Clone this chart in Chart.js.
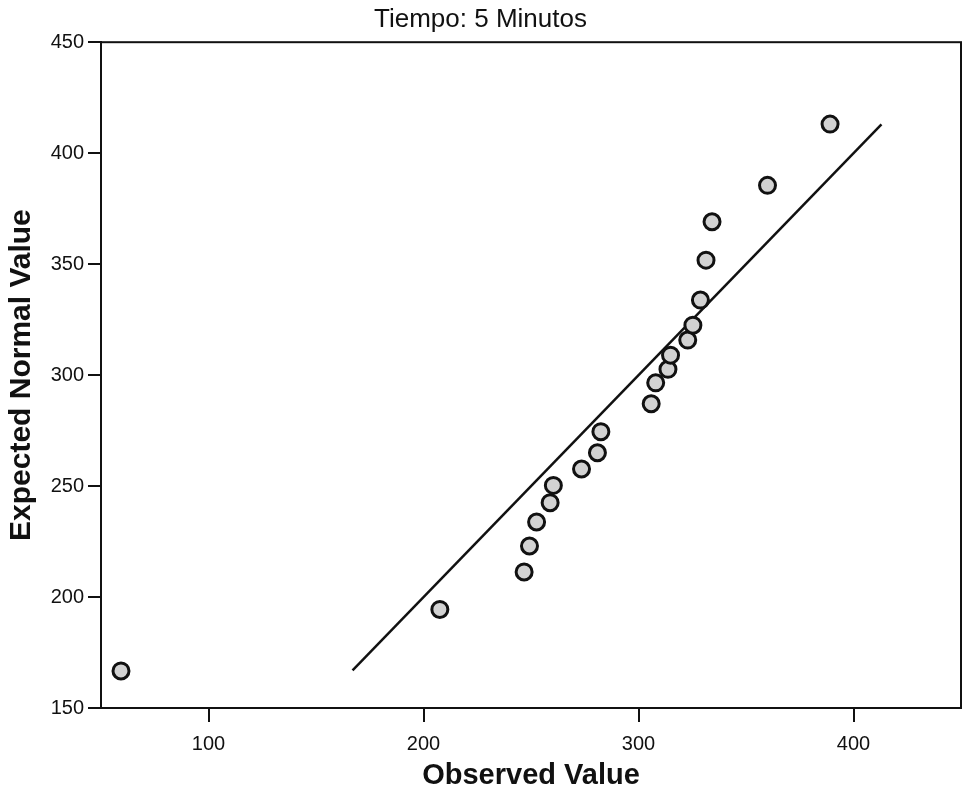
<!DOCTYPE html>
<html>
<head>
<meta charset="utf-8">
<script src="https://cdn.jsdelivr.net/npm/chart.js@4.4.1/dist/chart.umd.min.js"></script>
<style>
  html, body { margin: 0; padding: 0; background: #fff; }
  #wrap { width: 962px; height: 797px; }
</style>
</head>
<body>
<div id="wrap"><canvas id="myChart"></canvas></div>
<script>
// valores
const observed = [59.3, 207.6, 246.8, 249.3, 252.6, 258.9, 260.4, 273.5, 280.9, 282.5, 305.9, 308.0, 313.7, 314.9, 322.9, 325.3, 328.8, 331.4, 334.2, 360.0, 389.1];
const expected = [166.7, 194.4, 211.3, 223.0, 233.8, 242.5, 250.3, 257.7, 265.0, 274.5, 287.1, 296.5, 302.6, 309.0, 315.8, 322.5, 333.8, 351.8, 369.1, 385.5, 413.1];
// recta de referencia (y = x)
const lineEnds = [167, 413];
const xTicks = [100, 200, 300, 400];
const yTicks = [150, 200, 250, 300, 350, 400, 450];

const font = 'Liberation Sans, Arial, sans-serif';

// marco alrededor del area del grafico
const framePlugin = {
    id: 'frame',
    afterDraw(chart) {
        const a = chart.chartArea;
        const c = chart.ctx;
        c.save();
        c.strokeStyle = '#111';
        c.lineWidth = 2;
        c.strokeRect(a.left, a.top, a.right - a.left, a.bottom - a.top);
        c.restore();
    }
};

const ctx = document.getElementById('myChart').getContext('2d');
const myChart = new Chart(ctx, {
    data: {
        datasets: [{
            type: 'scatter',
            data: observed.map((v, i) => ({ x: v, y: expected[i] })),
            pointRadius: 8,
            pointBorderWidth: 3,
            pointBorderColor: '#111',
            pointBackgroundColor: '#d2d2d2'
        }, {
            type: 'line',
            data: lineEnds.map(v => ({ x: v, y: v })),
            borderColor: '#111',
            borderWidth: 2.5,
            pointRadius: 0,
            fill: false
        }]
    },
    options: {
        responsive: true,
        maintainAspectRatio: false,
        animation: false,
        layout: { autoPadding: false, padding: { left: 0, right: 1, top: 0, bottom: 0 } },
        scales: {
            x: {
                type: 'linear',
                min: 50,
                max: 450,
                afterBuildTicks: s => { s.ticks = xTicks.map(v => ({ value: v })); },
                afterFit: s => { s.height = 89; },
                grid: { drawOnChartArea: false, color: '#111', lineWidth: 2, tickLength: 14 },
                border: { color: '#111', width: 2 },
                ticks: { color: '#111', font: { family: font, size: 20 }, padding: 10, maxRotation: 0 },
                title: { display: true, text: 'Observed Value', color: '#111', font: { family: font, size: 29, weight: 'bold' }, padding: { top: 2 } }
            },
            y: {
                type: 'linear',
                min: 150,
                max: 450,
                afterBuildTicks: s => { s.ticks = yTicks.map(v => ({ value: v })); },
                afterFit: s => { s.width = 101; },
                grid: { drawOnChartArea: false, color: '#111', lineWidth: 2, tickLength: 13 },
                border: { color: '#111', width: 2 },
                ticks: { color: '#111', font: { family: font, size: 20 }, padding: 4 },
                title: { display: true, text: 'Expected Normal Value', color: '#111', font: { family: font, size: 30, weight: 'bold' }, padding: { bottom: 2 } }
            }
        },
        plugins: {
            legend: { display: false },
            tooltip: { enabled: false },
            title: {
                display: true,
                text: 'Tiempo: 5 Minutos',
                color: '#111',
                font: { family: font, size: 26, weight: 'normal' },
                padding: { top: 4, bottom: 7 }
            }
        }
    },
    plugins: [framePlugin]
});
</script>
</body>
</html>
